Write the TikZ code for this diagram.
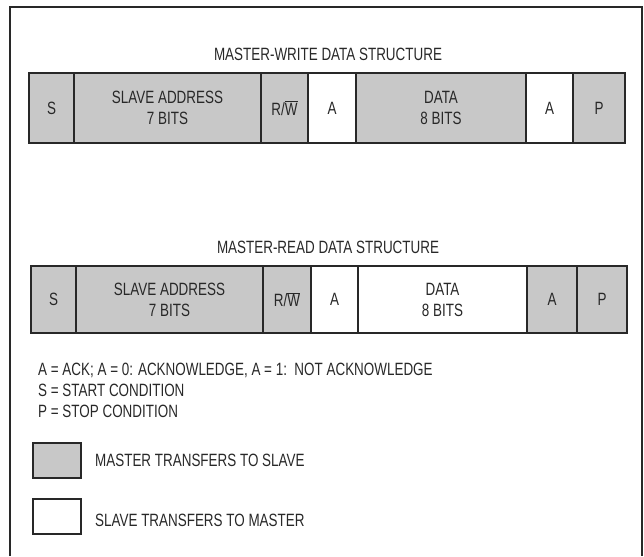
\documentclass[tikz,border=0pt]{standalone}
\usepackage{fontspec}
\setmainfont{Liberation Sans}[FakeStretch=0.755]
\definecolor{cellgray}{RGB}{200,200,200}
\definecolor{ink}{RGB}{40,40,40}
\begin{document}
\begin{tikzpicture}[x=1pt,y=-1pt,
  every node/.style={font=\fontsize{17.8}{21}\selectfont, text=ink},
  cell/.style={draw=ink, line width=1.1pt, inner sep=0pt, align=center},
  mcell/.style={cell, fill=cellgray},
  scell/.style={cell, fill=white},
  frame/.style={draw=ink, line width=2pt},
  lbl/.style={anchor=base west, inner sep=0pt}]
\useasboundingbox (0,0) rectangle (644,556);
% frame (open at bottom)
\draw[frame] (10,556) -- (10,7.5) -- (641.5,7.5) -- (641.5,556);
% row 1: master write
\node (t1) at (328,54.5) {MASTER-WRITE DATA STRUCTURE};
\begin{scope}[every node/.append style={minimum height=70pt}]
\node[mcell, minimum width=45pt] (w1) at (51.5,108) {S};
\node[mcell, minimum width=187pt] (w2) at (167.5,108) {SLAVE ADDRESS\\7 BITS};
\node[mcell, minimum width=47pt] (w3) at (284.5,108) {R/$\overline{\mbox{W}}$};
\node[scell, minimum width=48pt] (w4) at (332,108) {A};
\node[mcell, minimum width=170pt] (w5) at (441,108) {DATA\\8 BITS};
\node[scell, minimum width=47pt] (w6) at (549.5,108) {A};
\node[mcell, minimum width=52pt] (w7) at (599,108) {P};
\end{scope}
% row 2: master read
\node (t2) at (328,247.5) {MASTER-READ DATA STRUCTURE};
\begin{scope}[every node/.append style={minimum height=67pt}]
\node[mcell, minimum width=45pt] (r1) at (53.5,299.5) {S};
\node[mcell, minimum width=187pt] (r2) at (169.5,299.5) {SLAVE ADDRESS\\7 BITS};
\node[mcell, minimum width=48pt] (r3) at (287,299.5) {R/$\overline{\mbox{W}}$};
\node[scell, minimum width=47pt] (r4) at (334.5,299.5) {A};
\node[scell, minimum width=169pt] (r5) at (442.5,299.5) {DATA\\8 BITS};
\node[mcell, minimum width=50pt] (r6) at (552,299.5) {A};
\node[mcell, minimum width=50pt] (r7) at (602,299.5) {P};
\end{scope}
% legend
\node[lbl] (l1) at (38,375) {A = ACK; A = 0: ACKNOWLEDGE, A = 1:\ \ NOT ACKNOWLEDGE};
\node[lbl] (l2) at (38,396) {S = START CONDITION};
\node[lbl] (l3) at (38,417) {P = STOP CONDITION};
\node[mcell, minimum width=48pt, minimum height=35pt] (k1) at (57,460.5) {};
\node[lbl] (k1t) at (95,466) {MASTER TRANSFERS TO SLAVE};
\node[scell, minimum width=48pt, minimum height=35pt] (k2) at (57,516.5) {};
\node[lbl] (k2t) at (95,526) {SLAVE TRANSFERS TO MASTER};
\end{tikzpicture}
\end{document}
